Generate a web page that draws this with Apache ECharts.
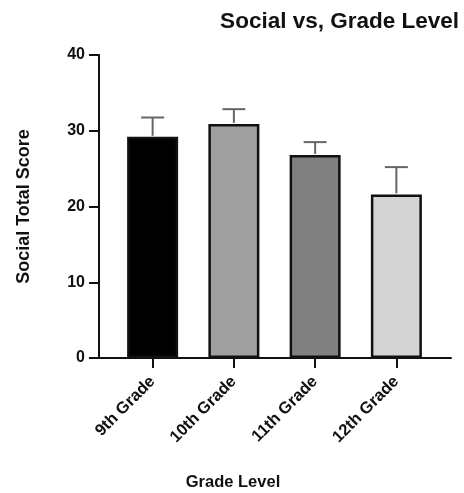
<!DOCTYPE html>
<html>
<head>
<meta charset="utf-8">
<script src="https://cdn.jsdelivr.net/npm/echarts@6/dist/echarts.min.js"></script>
<style>html,body{margin:0;padding:0;background:#fff}#c{width:464px;height:493px}</style>
</head>
<body>
<div id="c"></div>
<script>
var categories = ['9th Grade', '10th Grade', '11th Grade', '12th Grade'];
var means = [29.2, 30.9, 26.8, 21.6];
var upper = [31.75, 32.85, 28.5, 25.2];
var barColors = ['#000000', '#a0a0a0', '#808080', '#d4d4d4'];
var yTicks = [0, 10, 20, 30, 40];

var FONT = "'Liberation Sans', Arial, Helvetica, sans-serif";
var chart = echarts.init(document.getElementById('c'), null, {renderer: 'canvas'});

var errData = categories.map(function (c, i) { return [i, means[i], upper[i]]; });

chart.setOption({
  animation: false,
  backgroundColor: '#fff',
  title: {
    text: 'Social vs, Grade Level',
    right: 0, top: 5,
    textStyle: {fontFamily: FONT, fontWeight: 'bold', fontSize: 22.5, color: '#111'}
  },
  grid: [
    {left: 112, right: 27, top: 55, bottom: 135},
    {left: 99, right: 13, top: 55, bottom: 135}
  ],
  xAxis: [
    {
      type: 'category', data: categories, gridIndex: 0,
      axisLine: {show: false},
      axisTick: {show: true, alignWithLabel: true, length: 10, lineStyle: {color: '#111', width: 2}},
      axisLabel: {rotate: 45, margin: 21, fontFamily: FONT, fontWeight: 'bold', fontSize: 16.5, color: '#111', interval: 0},
      splitLine: {show: false}
    },
    {
      type: 'value', gridIndex: 1, min: 0, max: 1,
      axisLine: {show: true, onZero: false, lineStyle: {color: '#111', width: 2}},
      axisTick: {show: false}, axisLabel: {show: false}, splitLine: {show: false}
    }
  ],
  yAxis: [
    {
      type: 'value', gridIndex: 0, min: yTicks[0], max: yTicks[yTicks.length - 1], interval: 10,
      offset: 13,
      axisLine: {show: true, lineStyle: {color: '#111', width: 2}},
      axisTick: {show: true, length: 10, lineStyle: {color: '#111', width: 2}},
      axisLabel: {margin: 14, fontFamily: FONT, fontWeight: 'bold', fontSize: 16, color: '#111'},
      splitLine: {show: false},
      name: 'Social Total Score', nameLocation: 'middle', nameGap: 66,
      nameTextStyle: {fontFamily: FONT, fontWeight: 'bold', fontSize: 18, color: '#111'}
    },
    {type: 'value', gridIndex: 1, show: false, min: 0, max: 1}
  ],
  graphic: [
    {type: 'text', style: {text: 'Grade Level', x: 233, y: 482, textAlign: 'center', textVerticalAlign: 'middle', fontFamily: FONT, fontWeight: 'bold', fontSize: 16.5, fill: '#111'}}
  ],
  series: [
    {
      type: 'bar', xAxisIndex: 0, yAxisIndex: 0, barWidth: 51,
      data: means.map(function (v, i) {
        return {value: v, itemStyle: {color: barColors[i], borderColor: '#111', borderWidth: 2.5}};
      }),
      z: 2
    },
    {
      type: 'custom', xAxisIndex: 0, yAxisIndex: 0, z: 3,
      data: errData,
      renderItem: function (params, api) {
        var p0 = api.coord([api.value(0), api.value(1)]);
        var p1 = api.coord([api.value(0), api.value(2)]);
        var hw = 11.5;
        var st = {stroke: '#666', lineWidth: 2};
        return {type: 'group', children: [
          {type: 'line', shape: {x1: p0[0], y1: p0[1] - 1, x2: p1[0], y2: p1[1]}, style: st},
          {type: 'line', shape: {x1: p1[0] - hw, y1: p1[1], x2: p1[0] + hw, y2: p1[1]}, style: st}
        ]};
      }
    }
  ]
});
</script>
</body>
</html>
